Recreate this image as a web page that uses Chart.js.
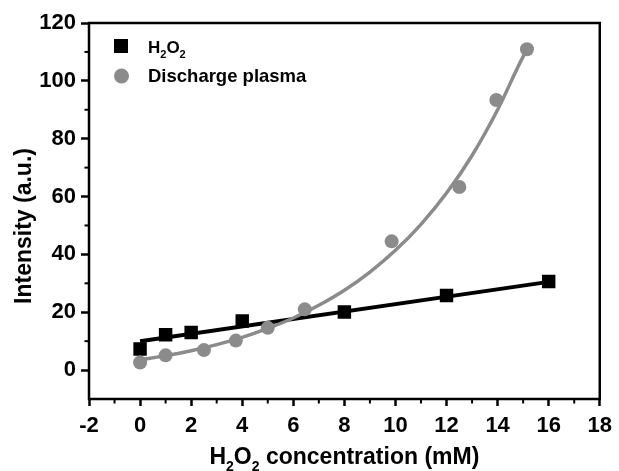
<!DOCTYPE html>
<html>
<head>
<meta charset="utf-8">
<script src="https://cdn.jsdelivr.net/npm/chart.js@4/dist/chart.umd.min.js"></script>
<style>
  html, body { margin: 0; padding: 0; background: #fff; }
  #wrap { width: 619px; height: 471px; }
</style>
</head>
<body>
<div id="wrap"><canvas id="fig" width="619" height="471"></canvas></div>
<script>
// data
const xTicks = [-2, 0, 2, 4, 6, 8, 10, 12, 14, 16, 18];
const yTicks = [0, 20, 40, 60, 80, 100, 120];
const xMinor = [-1, 1, 3, 5, 7, 9, 11, 13, 15, 17];
const yMinor = [10, 30, 50, 70, 90, 110];

const h2o2X = [0, 1, 2, 4, 8, 12, 16];
const h2o2Y = [7.3, 12.2, 13, 17, 20.1, 25.8, 30.6];
const h2o2FitX = [0, 16];
const h2o2FitY = [10, 30.5];

const plasmaX = [0, 1, 2.5, 3.75, 5, 6.45, 9.85, 12.5, 13.95, 15.15];
const plasmaY = [2.6, 5.1, 6.9, 10.2, 14.6, 21, 44.5, 63.3, 93.4, 110.9];
const plasmaFitX = [0, 1, 2, 3, 4, 5, 6, 7, 8, 9, 10, 11, 12, 13, 14, 15, 15.15];
const plasmaFitY = [3.5, 5, 6.7, 8.8, 11.3, 14.4, 18, 22.4, 27.6, 33.9, 41.4, 50.4, 61.2, 74.2, 90, 108.4, 110.6];

const BLACK = "#000000";
const GREY = "#8b8b8b";
const FONT = "'Liberation Sans', Arial, sans-serif";

function pts(xs, ys) {
  return xs.map((x, i) => ({x: x, y: ys[i]}));
}

// text with subscript "2"s: runs of [text, isSub]
function richWidth(ctx, runs, size) {
  let w = 0;
  runs.forEach(r => {
    ctx.font = "bold " + (r[1] ? Math.round(size * 0.62) : size) + "px " + FONT;
    w += ctx.measureText(r[0]).width;
  });
  return w;
}
function drawRich(ctx, runs, x, y, size) {
  runs.forEach(r => {
    ctx.font = "bold " + (r[1] ? Math.round(size * 0.62) : size) + "px " + FONT;
    ctx.fillText(r[0], x, r[1] ? y + size * 0.32 : y);
    x += ctx.measureText(r[0]).width;
  });
}

const decor = {
  id: "decor",
  afterDraw(chart) {
    const ctx = chart.ctx;
    const a = chart.chartArea;
    const xs = chart.scales.x, ys = chart.scales.y;
    ctx.save();
    // frame
    ctx.strokeStyle = BLACK;
    ctx.lineWidth = 2.5;
    ctx.strokeRect(a.left, a.top, a.right - a.left, a.bottom - a.top);
    // minor ticks
    ctx.lineWidth = 2;
    xMinor.forEach(v => {
      const px = xs.getPixelForValue(v);
      ctx.beginPath(); ctx.moveTo(px, a.bottom); ctx.lineTo(px, a.bottom + 4.5); ctx.stroke();
    });
    yMinor.forEach(v => {
      const py = ys.getPixelForValue(v);
      ctx.beginPath(); ctx.moveTo(a.left, py); ctx.lineTo(a.left - 4.5, py); ctx.stroke();
    });
    // axis titles
    ctx.fillStyle = BLACK;
    ctx.textBaseline = "alphabetic";
    ctx.textAlign = "left";
    const xt = [["H", 0], ["2", 1], ["O", 0], ["2", 1], [" concentration (mM)", 0]];
    const w = richWidth(ctx, xt, 23);
    drawRich(ctx, xt, (a.left + a.right) / 2 - w / 2, 464, 23);

    ctx.save();
    ctx.translate(31, 226);
    ctx.rotate(-Math.PI / 2);
    ctx.textAlign = "center";
    ctx.font = "bold 23px " + FONT;
    ctx.fillText("Intensity (a.u.)", 0, 0);
    ctx.restore();

    // legend
    ctx.fillStyle = BLACK;
    ctx.fillRect(114, 39, 14, 14);
    ctx.fillStyle = GREY;
    ctx.beginPath(); ctx.arc(121.5, 76, 7.5, 0, Math.PI * 2); ctx.fill();
    ctx.fillStyle = BLACK;
    ctx.textAlign = "left";
    drawRich(ctx, [["H", 0], ["2", 1], ["O", 0], ["2", 1]], 148, 53, 17);
    ctx.font = "bold 18.5px " + FONT;
    ctx.fillText("Discharge plasma", 148, 82);
    ctx.restore();
  }
};

new Chart(document.getElementById("fig"), {
  type: "scatter",
  data: {
    datasets: [
      {
        label: "Discharge plasma",
        data: pts(plasmaX, plasmaY),
        pointStyle: "circle",
        pointRadius: 7,
        pointBackgroundColor: GREY,
        pointBorderWidth: 0,
        showLine: false
      },
      {
        label: "plasma fit",
        data: pts(plasmaFitX, plasmaFitY),
        showLine: true,
        borderColor: GREY,
        borderWidth: 3.5,
        pointRadius: 0,
        cubicInterpolationMode: "monotone"
      },
      {
        label: "H2O2",
        data: pts(h2o2X, h2o2Y),
        pointStyle: "rect",
        pointRadius: 9.5,
        pointBackgroundColor: BLACK,
        pointBorderWidth: 0,
        showLine: false
      },
      {
        label: "H2O2 fit",
        data: pts(h2o2FitX, h2o2FitY),
        showLine: true,
        borderColor: BLACK,
        borderWidth: 4,
        pointRadius: 0
      }
    ]
  },
  options: {
    responsive: false,
    animation: false,
    layout: { padding: { left: 0, top: 23, right: 14, bottom: 0 } },
    plugins: {
      legend: { display: false },
      tooltip: { enabled: false }
    },
    scales: {
      x: {
        type: "linear",
        min: -2,
        max: 18,
        afterBuildTicks: s => { s.ticks = xTicks.map(v => ({value: v})); },
        afterFit: s => { s.height = 72; },
        border: { display: false },
        grid: { drawOnChartArea: false, drawTicks: true, tickLength: 7, tickWidth: 2.5, tickColor: BLACK },
        ticks: { color: BLACK, padding: 7, maxRotation: 0, font: { family: FONT, size: 22, weight: "bold" } }
      },
      y: {
        type: "linear",
        min: -10,
        max: 120,
        afterBuildTicks: s => { s.ticks = yTicks.map(v => ({value: v})); },
        afterFit: s => { s.width = 89; },
        border: { display: false },
        grid: { drawOnChartArea: false, drawTicks: true, tickLength: 8, tickWidth: 2.5, tickColor: BLACK },
        ticks: { color: BLACK, padding: 5, font: { family: FONT, size: 22, weight: "bold" } }
      }
    }
  },
  plugins: [decor]
});
</script>
</body>
</html>
